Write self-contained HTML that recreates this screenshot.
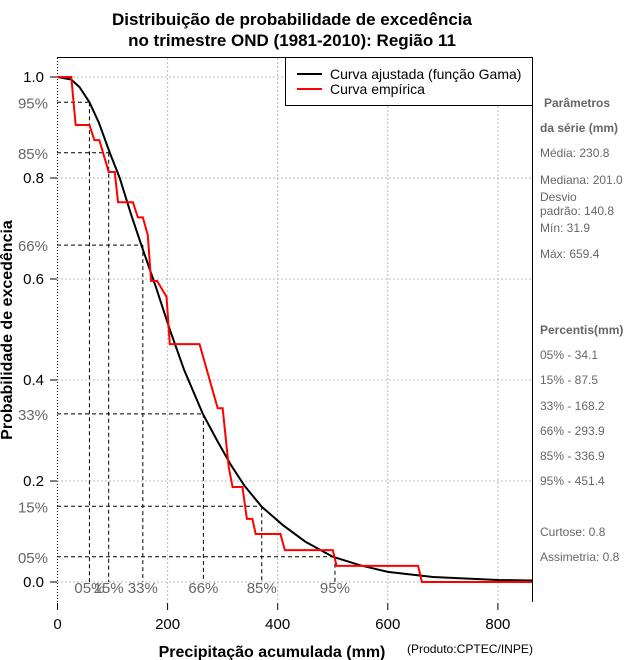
<!DOCTYPE html>
<html><head><meta charset="utf-8"><style>
body{margin:0;background:#fff;}
svg{display:block;font-family:"Liberation Sans",sans-serif;}
</style></head><body>
<svg id="c" width="640" height="660" viewBox="0 0 640 660">
<text x="292" y="25" text-anchor="middle" font-size="17" font-weight="bold">Distribuição de probabilidade de excedência</text>
<text x="292" y="46" text-anchor="middle" font-size="17" font-weight="bold">no trimestre OND (1981-2010): Região 11</text>
<g id="grid"></g>
<g id="guides"></g>
<g id="series"></g>
<g id="axes"></g>
<line x1="57" y1="57.5" x2="532.5" y2="57.5" stroke="#000"/>
<line x1="532.5" y1="57" x2="532.5" y2="602" stroke="#000"/>
<g>
<rect x="285.5" y="57.5" width="247" height="48" fill="#fff" stroke="#000"/>
<line x1="297" y1="74" x2="322" y2="74" stroke="#000" stroke-width="2"/>
<text x="330" y="79" font-size="14">Curva ajustada (função Gama)</text>
<line x1="297" y1="89" x2="322" y2="89" stroke="#f00" stroke-width="2"/>
<text x="330" y="94" font-size="14">Curva empírica</text>
</g>
<text transform="translate(12,330) rotate(-90)" text-anchor="middle" font-size="16" font-weight="bold">Probabilidade de excedência</text>
<text x="272" y="657" text-anchor="middle" font-size="16" font-weight="bold">Precipitação acumulada (mm)</text>
<text x="407" y="653" font-size="12" textLength="126" lengthAdjust="spacingAndGlyphs">(Produto:CPTEC/INPE)</text>
<g fill="#666" font-size="12">
<text x="544" y="107" font-weight="bold">Parâmetros</text>
<text x="540" y="132" font-weight="bold">da série (mm)</text>
<text x="540" y="157">Média: 230.8</text>
<text x="540" y="184">Mediana: 201.0</text>
<text x="540" y="201">Desvio</text>
<text x="540" y="215">padrão: 140.8</text>
<text x="540" y="232">Mín: 31.9</text>
<text x="540" y="258">Máx: 659.4</text>
<text x="540" y="334" font-weight="bold">Percentis(mm)</text>
<text x="540" y="359">05% - 34.1</text>
<text x="540" y="384">15% - 87.5</text>
<text x="540" y="410">33% - 168.2</text>
<text x="540" y="435">66% - 293.9</text>
<text x="540" y="460">85% - 336.9</text>
<text x="540" y="485">95% - 451.4</text>
<text x="540" y="536">Curtose: 0.8</text>
<text x="540" y="561">Assimetria: 0.8</text>
</g>
</svg>
<script>
const xTicks=[0,200,400,600,800];
const yTicks=[0,0.2,0.4,0.6,0.8,1.0];
const pctLabels=["05%","15%","33%","66%","85%","95%"];
const yPctLabels=["95%","85%","66%","33%","15%","05%"];
const pctProb=[0.95,0.85,0.667,0.333,0.15,0.05];
const pctX=[58,93,155,265,371,504];
const gammaX=[0,25,40,58,75,95,113,133,153,180,204,230,264,290,316,340,371,409,450,500,550,600,682,800,862];
const gammaY=[1,0.995,0.98,0.95,0.91,0.85,0.8,0.73,0.665,0.58,0.5,0.42,0.333,0.28,0.23,0.19,0.149,0.113,0.08,0.05,0.033,0.02,0.01,0.004,0.003];
const empX=[0,25,33,58,67,76,93,104,110,137,146,155,164,170,181,198,204,258,291,300,311,318,336,344,354,360,405,413,500,507,655,662,862];
const empY=[1,1,0.905,0.905,0.875,0.875,0.812,0.812,0.752,0.752,0.722,0.722,0.687,0.596,0.596,0.565,0.471,0.471,0.344,0.344,0.228,0.188,0.188,0.125,0.125,0.095,0.095,0.063,0.063,0.032,0.032,0,0];
const X=v=>57.5+v*0.5505;
const Y=p=>582-p*505;
const NS="http://www.w3.org/2000/svg";
function mk(parent,tag,attrs){const e=document.createElementNS(NS,tag);for(const k in attrs)e.setAttribute(k,attrs[k]);document.getElementById(parent).appendChild(e);return e;}
xTicks.forEach(t=>{
 const g=mk('grid','line',{x1:X(t),x2:X(t),y1:58,y2:602,stroke:t===0?'#000':'#bbb','stroke-dasharray':t===0?'1,2':'2,2'});
 
 
 const k=mk('axes','line',{x1:X(t),x2:X(t),y1:603,y2:610,stroke:'#000'});
 
 
 const l=mk('axes','text',{x:X(t),y:629,'text-anchor':'middle','font-size':15});
 l.textContent=t;
 
 
});
yTicks.forEach(t=>{
 const g=mk('grid','line',{x1:57,x2:532,y1:Y(t),y2:Y(t),stroke:'#bbb','stroke-dasharray':'2,2'});
 
 
 const k=mk('axes','line',{x1:50,x2:57,y1:Y(t),y2:Y(t),stroke:'#000'});
 
 
 const l=mk('axes','text',{x:44,y:Y(t)+5,'text-anchor':'end','font-size':15});
 l.textContent=t.toFixed(1);
 
 
});
pctProb.forEach((p,i)=>{
 const y=Y(p),x=X(pctX[i]);
 const h=mk('guides','line',{x1:57,x2:x,y1:y,y2:y,stroke:'#000','stroke-dasharray':'4,3'});
 
 
 const v=mk('guides','line',{x1:x,x2:x,y1:y,y2:582,stroke:'#000','stroke-dasharray':'4,3'});
 
 
 const l=mk('axes','text',{x:48,y:y+6,'text-anchor':'end','font-size':15,fill:'#666'});
 l.textContent=yPctLabels[i];
 
 
 const b=mk('guides','text',{x:x,y:593,'text-anchor':'middle','font-size':15,fill:'#666'});
 b.textContent=pctLabels[i];
 
 
});
const gp=mk('series','polyline',{points:gammaX.map((v,i)=>X(v)+','+Y(gammaY[i])).join(' '),fill:'none',stroke:'#000','stroke-width':2});


const ep=mk('series','polyline',{points:empX.map((v,i)=>X(v)+','+Y(empY[i])).join(' '),fill:'none',stroke:'#f00','stroke-width':2});


</script>
</body></html>
